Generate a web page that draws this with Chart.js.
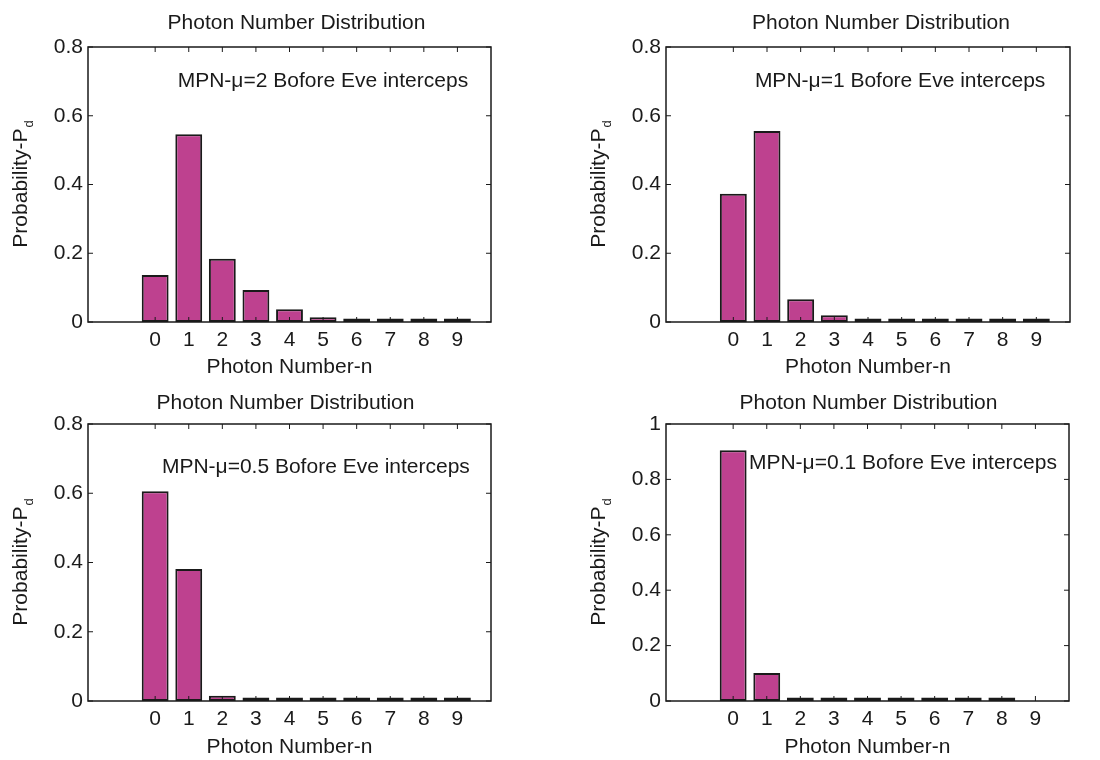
<!DOCTYPE html>
<html>
<head>
<meta charset="utf-8">
<script src="https://cdn.jsdelivr.net/npm/chart.js@4"></script>
<style>
    body { margin: 0; background: #fff; }
    .panel { position: absolute; width: 550px; height: 380px; }
</style>
</head>
<body>
<div class="panel" style="left:0;top:0"><canvas id="c1" width="550" height="380"></canvas></div>
<div class="panel" style="left:550px;top:0"><canvas id="c2" width="550" height="380"></canvas></div>
<div class="panel" style="left:0;top:380px"><canvas id="c3" width="550" height="380"></canvas></div>
<div class="panel" style="left:550px;top:380px"><canvas id="c4" width="550" height="380"></canvas></div>
<script>
// values (null = no bar drawn)
const photonNumbers = [0, 1, 2, 3, 4, 5, 6, 7, 8, 9];
const probMu2  = [0.137, 0.546, 0.184, 0.093, 0.037, 0.014, 0.003, 0.002, 0.002, 0.002];
const probMu1  = [0.373, 0.556, 0.066, 0.020, 0.003, 0.002, 0.002, 0.002, 0.002, 0.002];
const probMu05 = [0.606, 0.381, 0.015, 0.003, 0.002, 0.002, 0.002, 0.002, 0.002, 0.002];
const probMu01 = [0.905, 0.101, 0.003, 0.002, 0.002, 0.002, 0.002, 0.002, 0.002, null];
const yTicksLow  = [0, 0.2, 0.4, 0.6, 0.8];
const yTicksHigh = [0, 0.2, 0.4, 0.6, 0.8, 1];
const notes = [
    'MPN-μ=2 Bofore Eve interceps',
    'MPN-μ=1 Bofore Eve interceps',
    'MPN-μ=0.5 Bofore Eve interceps',
    'MPN-μ=0.1 Bofore Eve interceps'
];
const panelTitle = 'Photon Number Distribution';
const xTitle = 'Photon Number-n';
const yTitle = 'Probability-P';
const yTitleSub = 'd';

const FONT = 'Liberation Sans, Arial, sans-serif';
const FS = 21;
const INK = '#1a1a1a';

// area = chart area inside each 550x380 panel: left, top, right, bottom
const panels = [
    {id: 'c1', values: probMu2,  yTicks: yTicksLow,  note: notes[0], noteAt: [0.67, 0.70],  area: [88, 47, 491, 322], titleDx: 7},
    {id: 'c2', values: probMu1,  yTicks: yTicksLow,  note: notes[1], noteAt: [0.64, 0.70],  area: [116, 47, 520, 322], titleDx: 13},
    {id: 'c3', values: probMu05, yTicks: yTicksLow,  note: notes[2], noteAt: [0.20, 0.675], area: [88, 44, 491, 321], titleDx: -4},
    {id: 'c4', values: probMu01, yTicks: yTicksHigh, note: notes[3], noteAt: [0.47, 0.858], area: [116, 44, 519, 321], titleDx: 1}
];

Chart.defaults.font.family = FONT;
Chart.defaults.font.size = FS;
Chart.defaults.color = INK;

// box with inward ticks, title, y label with subscript, note text
const matlabAxes = {
    id: 'matlabAxes',
    afterDraw(chart, args, opts) {
        const ctx = chart.ctx;
        const a = chart.chartArea;
        const xs = chart.scales.x, ys = chart.scales.y;
        ctx.save();
        ctx.strokeStyle = INK;
        ctx.lineWidth = 1.5;
        ctx.strokeRect(a.left, a.top, a.right - a.left, a.bottom - a.top);
        ctx.beginPath();
        for (const t of xs.ticks) {
            const px = xs.getPixelForValue(t.value);
            ctx.moveTo(px, a.bottom); ctx.lineTo(px, a.bottom - 5);
            ctx.moveTo(px, a.top); ctx.lineTo(px, a.top + 5);
        }
        for (const t of ys.ticks) {
            const py = ys.getPixelForValue(t.value);
            ctx.moveTo(a.left, py); ctx.lineTo(a.left + 5, py);
            ctx.moveTo(a.right, py); ctx.lineTo(a.right - 5, py);
        }
        ctx.lineWidth = 1;
        ctx.stroke();

        ctx.fillStyle = INK;
        ctx.font = FS + 'px ' + FONT;
        ctx.textAlign = 'center';
        ctx.textBaseline = 'middle';
        ctx.fillText(panelTitle, (a.left + a.right) / 2 + opts.titleDx, 23);

        ctx.textAlign = 'left';
        ctx.fillText(opts.note, xs.getPixelForValue(opts.noteAt[0]), ys.getPixelForValue(opts.noteAt[1]));

        // rotated y label with subscript
        ctx.translate(a.left - 67, (a.top + a.bottom) / 2);
        ctx.rotate(-Math.PI / 2);
        ctx.font = FS + 'px ' + FONT;
        const w1 = ctx.measureText(yTitle).width;
        ctx.font = '13px ' + FONT;
        const w2 = ctx.measureText(yTitleSub).width;
        const x0 = -(w1 + w2) / 2;
        ctx.font = FS + 'px ' + FONT;
        ctx.fillText(yTitle, x0, 0);
        ctx.font = '13px ' + FONT;
        ctx.fillText(yTitleSub, x0 + w1 + 1, 8);
        ctx.restore();
    }
};

for (const p of panels) {
    const [left, top, right, bottom] = p.area;
    new Chart(document.getElementById(p.id), {
        type: 'bar',
        data: {
            labels: photonNumbers,
            datasets: [{
                data: p.values,
                backgroundColor: '#be418f',
                borderColor: INK,
                borderWidth: 2,
                borderSkipped: false,
                // near-zero bars still show as a dash, like the edge line in the original
                minBarLength: 3.5,
                barPercentage: 0.8,
                categoryPercentage: 1.0
            }]
        },
        options: {
            responsive: false,
            animation: false,
            devicePixelRatio: 1,
            layout: { padding: { left: 0, top: top, right: 550 - right, bottom: 0 } },
            plugins: {
                legend: { display: false },
                tooltip: { enabled: false },
                matlabAxes: { note: p.note, noteAt: p.noteAt, titleDx: p.titleDx }
            },
            scales: {
                x: {
                    type: 'linear',
                    min: -2,
                    max: 10,
                    offset: false,
                    grid: { display: false, drawTicks: false },
                    border: { display: false },
                    afterBuildTicks: s => { s.ticks = photonNumbers.map(v => ({ value: v })); },
                    afterFit: s => { s.height = 380 - bottom; },
                    ticks: { padding: 6, maxRotation: 0, autoSkip: false, callback: v => String(v) },
                    title: { display: true, text: xTitle, padding: { top: 0, bottom: 0 } }
                },
                y: {
                    min: 0,
                    max: p.yTicks[p.yTicks.length - 1],
                    grid: { display: false, drawTicks: false },
                    border: { display: false },
                    afterBuildTicks: s => { s.ticks = p.yTicks.map(v => ({ value: v })); },
                    afterFit: s => { s.width = left; },
                    ticks: { padding: 5, callback: v => String(v) }
                }
            }
        },
        plugins: [matlabAxes]
    });
}
</script>
</body>
</html>
